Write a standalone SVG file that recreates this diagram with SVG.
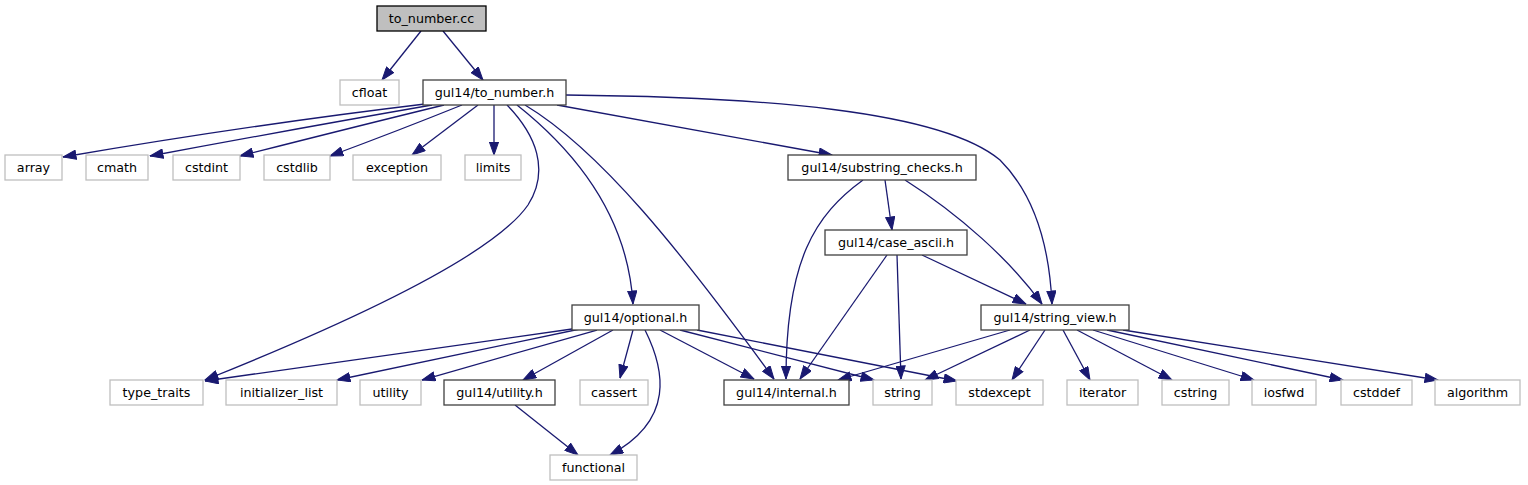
<svg xmlns="http://www.w3.org/2000/svg" width="1528" height="485" viewBox="0 0 1528 485">
<style>
.n rect{fill:#fff;stroke:#bfbfbf;stroke-width:1.3}
.d rect{stroke:#404040}
.m rect{fill:#bfbfbf;stroke:#000}
text{font-family:"DejaVu Sans","Liberation Sans",sans-serif;font-size:12.7px;fill:#000;text-anchor:middle}
#edges path{fill:none;stroke:#191970;stroke-width:1.3;marker-end:url(#ah)}
</style>
<defs>
<marker id="ah" markerUnits="userSpaceOnUse" markerWidth="14" markerHeight="10" viewBox="0 0 13 10" refX="13" refY="5" orient="auto">
<path d="M0,0.4 L13,5 L0,9.6 z" fill="#191970" stroke="#191970" stroke-width="1"/>
</marker>
</defs>
<rect width="1528" height="485" fill="#fff"/>
<g id="edges">
<path d="M421,31 L382,80"/>
<path d="M443,31 L483,80"/>
<path d="M425,104 Q250,125 63,157"/>
<path d="M432,105 Q300,128 150,156"/>
<path d="M444,105 Q350,128 240,156"/>
<path d="M462,105 Q400,130 330,156"/>
<path d="M478,105 L412,155"/>
<path d="M494,105 L494,155"/>
<path d="M507,105 C536,135 550,170 528,205 C490,260 330,330 205,380"/>
<path d="M517,105 C580,155 628,220 633,304"/>
<path d="M525,105 C600,150 680,250 774,379"/>
<path d="M557,105 L832,155"/>
<path d="M566,95 C760,97 940,110 1000,160 C1040,200 1050,260 1052,304"/>
<path d="M863,180 C815,215 786,260 786,379"/>
<path d="M885,180 L892,230"/>
<path d="M905,180 C960,215 1010,260 1042,304"/>
<path d="M887,255 L800,379"/>
<path d="M897,255 L901,379"/>
<path d="M922,255 L1026,304"/>
<path d="M1010,330 L838,380"/>
<path d="M1030,330 L925,380"/>
<path d="M1045,330 L1012,380"/>
<path d="M1063,330 L1090,380"/>
<path d="M1077,330 L1172,380"/>
<path d="M1093,330 L1254,380"/>
<path d="M1107,330 L1343,380"/>
<path d="M1123,330 L1438,380"/>
<path d="M572,329 L205,381"/>
<path d="M580,329 L337,380"/>
<path d="M597,330 L422,380"/>
<path d="M613,330 L523,380"/>
<path d="M633,330 L620,378"/>
<path d="M645,330 C665,370 675,420 610,455"/>
<path d="M660,330 L754,379"/>
<path d="M680,330 L874,380"/>
<path d="M697,330 L957,381"/>
<path d="M515,405 L578,455"/>
</g>
<g id="to_number_cc" class="n m"><rect x="377" y="6" width="109" height="25"/><text x="431.5" y="23">to_number.cc</text></g>
<g id="cfloat" class="n"><rect x="340" y="80" width="59" height="25"/><text x="369.5" y="97">cfloat</text></g>
<g id="to_number_h" class="n d"><rect x="423" y="80" width="143" height="25"/><text x="494.5" y="97">gul14/to_number.h</text></g>
<g id="array" class="n"><rect x="5" y="155" width="57" height="25"/><text x="33.5" y="172">array</text></g>
<g id="cmath" class="n"><rect x="86" y="155" width="62" height="25"/><text x="117" y="172">cmath</text></g>
<g id="cstdint" class="n"><rect x="173" y="155" width="67" height="25"/><text x="206.5" y="172">cstdint</text></g>
<g id="cstdlib" class="n"><rect x="264" y="155" width="66" height="25"/><text x="297" y="172">cstdlib</text></g>
<g id="exception" class="n"><rect x="353" y="155" width="88" height="25"/><text x="397" y="172">exception</text></g>
<g id="limits" class="n"><rect x="465" y="155" width="56" height="25"/><text x="493" y="172">limits</text></g>
<g id="substring_checks_h" class="n d"><rect x="788" y="155" width="188" height="25"/><text x="882" y="172">gul14/substring_checks.h</text></g>
<g id="case_ascii_h" class="n d"><rect x="825" y="230" width="142" height="25"/><text x="896" y="247">gul14/case_ascii.h</text></g>
<g id="optional_h" class="n d"><rect x="572" y="305" width="127" height="25"/><text x="635.5" y="322">gul14/optional.h</text></g>
<g id="string_view_h" class="n d"><rect x="981" y="305" width="148" height="25"/><text x="1055" y="322">gul14/string_view.h</text></g>
<g id="type_traits" class="n"><rect x="110" y="380" width="93" height="25"/><text x="156.5" y="397">type_traits</text></g>
<g id="initializer_list" class="n"><rect x="226" y="380" width="111" height="25"/><text x="281.5" y="397">initializer_list</text></g>
<g id="utility" class="n"><rect x="360" y="380" width="61" height="25"/><text x="390.5" y="397">utility</text></g>
<g id="utility_h" class="n d"><rect x="444" y="380" width="111" height="25"/><text x="499.5" y="397">gul14/utility.h</text></g>
<g id="cassert" class="n"><rect x="580" y="380" width="68" height="25"/><text x="614" y="397">cassert</text></g>
<g id="internal_h" class="n d"><rect x="724" y="380" width="125" height="25"/><text x="786.5" y="397">gul14/internal.h</text></g>
<g id="string" class="n"><rect x="873" y="380" width="59" height="25"/><text x="902.5" y="397">string</text></g>
<g id="stdexcept" class="n"><rect x="956" y="380" width="87" height="25"/><text x="999.5" y="397">stdexcept</text></g>
<g id="iterator" class="n"><rect x="1067" y="380" width="71" height="25"/><text x="1102.5" y="397">iterator</text></g>
<g id="cstring" class="n"><rect x="1162" y="380" width="67" height="25"/><text x="1195.5" y="397">cstring</text></g>
<g id="iosfwd" class="n"><rect x="1252" y="380" width="64" height="25"/><text x="1284" y="397">iosfwd</text></g>
<g id="cstddef" class="n"><rect x="1341" y="380" width="71" height="25"/><text x="1376.5" y="397">cstddef</text></g>
<g id="algorithm" class="n"><rect x="1435" y="380" width="85" height="25"/><text x="1477.5" y="397">algorithm</text></g>
<g id="functional" class="n"><rect x="550" y="455" width="87" height="25"/><text x="593.5" y="472">functional</text></g>
</svg>
